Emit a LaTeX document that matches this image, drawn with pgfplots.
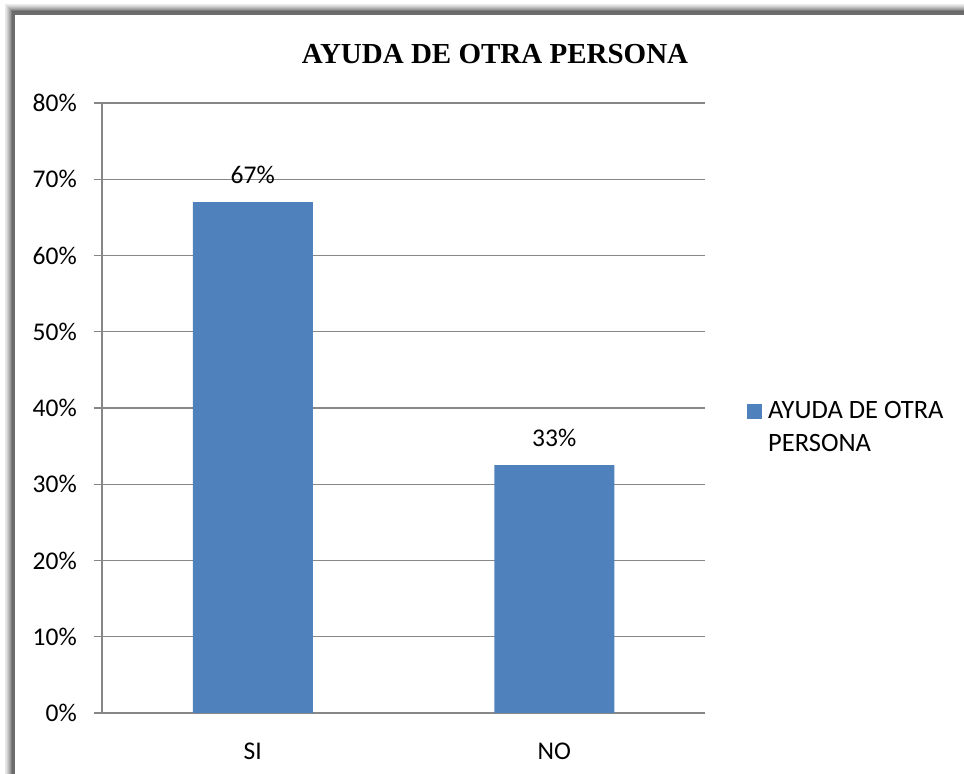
\documentclass[border=0pt]{standalone}
\usepackage{pgfplots}
\pgfplotsset{compat=1.18}
\usepackage{fontspec}
\setmainfont{Carlito}
\newfontfamily\titlefont{Liberation Serif}
\definecolor{barblue}{HTML}{4F81BD}
\definecolor{gridgray}{HTML}{878787}
\begin{document}
\begin{tikzpicture}[x=1bp,y=1bp]
\path[use as bounding box] (0,0) rectangle (964,774);
\begin{scope}
\clip (0,0) rectangle (964,774);
\foreach \d/\o in {9/0.08,8/0.12,7/0.18,6/0.25,5/0.32,4/0.4,3/0.5,2/0.6}{
  \draw[black,opacity=\o,line width=1bp] (14-\d,-20) -- (14-\d,760+\d) -- (1000,760+\d);
}
\draw[gridgray!80!black,line width=3bp] (13.5,-20) -- (13.5,760.5) -- (1000,760.5);
\end{scope}
\begin{axis}[
  at={(102bp,61bp)}, anchor=south west,
  width=603bp, height=610bp, scale only axis,
  ybar, bar width=120bp,
  xmin=-0.5, xmax=1.5, ymin=0, ymax=80,
  axis x line*=bottom, axis y line*=left,
  axis line style={gridgray, line width=1.2bp, -},
  xtick={0,1}, xticklabels={SI,NO},
  major x tick style={draw=none},
  extra x ticks={-0.5,0.5,1.5}, extra x tick labels={},
  extra x tick style={tick style={gridgray, line width=1.2bp}, major tick length=8bp, tick align=outside},
  ytick={0,10,...,80},
  yticklabel={\pgfmathprintnumber{\tick}\%},
  /pgf/number format/assume math mode=true,
  tick align=outside, major tick length=8bp,
  ytick style={gridgray, line width=1.2bp},
  ymajorgrids, major grid style={gridgray, line width=1.2bp},
  tick label style={font=\fontsize{25.5bp}{30bp}\selectfont},
  yticklabel style={anchor=east, inner sep=0pt, xshift=-17bp},
  xticklabel style={anchor=base, inner sep=0pt, yshift=-39bp},
  title={\titlefont\bfseries AYUDA DE OTRA PERSONA},
  title style={at={(0.6517,1.0557)}, anchor=base, inner sep=0pt, font=\fontsize{29bp}{34bp}\selectfont},
  nodes near coords, point meta=explicit symbolic,
  every node near coord/.append style={anchor=base, yshift=19bp, inner sep=0pt, font=\fontsize{25.5bp}{30bp}\selectfont, black},
  legend style={draw=none, fill=none, at={(1.0697,0.5213)}, anchor=north west, inner sep=0pt,
    font=\fontsize{26.5bp}{33bp}\selectfont, nodes={inner sep=0pt, anchor=base west},
    /tikz/every odd column/.append style={column sep=6bp}},
  legend image code/.code={\fill[barblue] (0bp,-1bp) rectangle (15bp,14bp);},
  legend cell align=left,
]
\addplot[fill=barblue, draw=none] coordinates {(0,67) [67\%] (1,32.5) [33\%]};
\addlegendentry{\begin{tabular}[t]{@{}l@{}}AYUDA DE OTRA\\PERSONA\end{tabular}}
\end{axis}
\end{tikzpicture}
\end{document}
